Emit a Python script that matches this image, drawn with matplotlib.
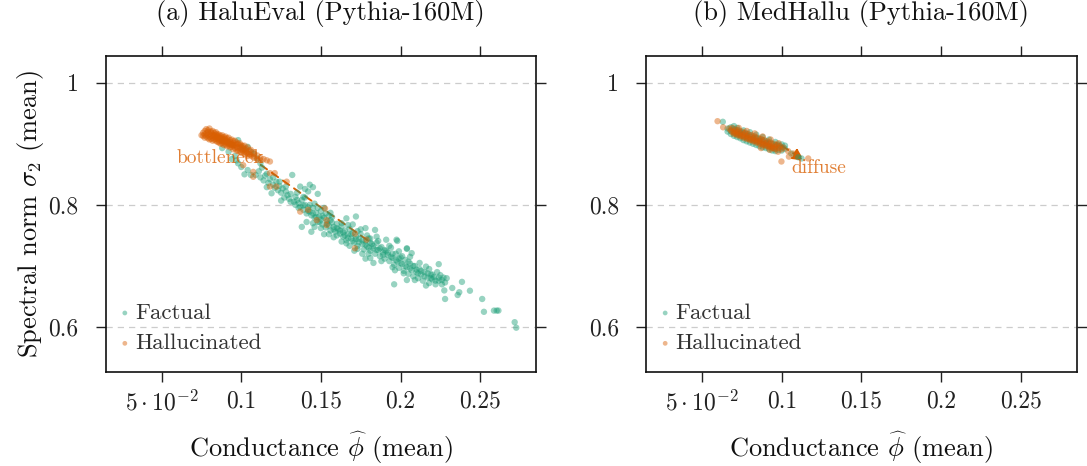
import numpy as np
import matplotlib
matplotlib.use("Agg")
import matplotlib.pyplot as plt

# ---------------- data ----------------
titles = ["(a) HaluEval (Pythia-160M)", "(b) MedHallu (Pythia-160M)"]
series_names = ["Factual", "Hallucinated"]
xtick_vals = [0.05, 0.10, 0.15, 0.20, 0.25]
xtick_labels = [r"$5\cdot10^{-2}$", "0.1", "0.15", "0.2", "0.25"]
ytick_vals = [0.6, 0.8, 1.0]
ytick_labels = ["0.6", "0.8", "1"]

halueval_factual = [
    (0.088,0.905),(0.092,0.902),(0.095,0.898),(0.098,0.906),(0.100,0.895),(0.102,0.891),
    (0.104,0.895),(0.106,0.887),(0.108,0.884),(0.110,0.876),(0.088,0.893),(0.092,0.887),
    (0.096,0.880),(0.098,0.868),(0.100,0.862),(0.102,0.850),(0.104,0.857),(0.106,0.849),
    (0.109,0.849),(0.094,0.875),(0.097,0.873),(0.112,0.868),(0.113,0.861),(0.111,0.855),
    (0.112,0.845),(0.114,0.840),(0.115,0.848),(0.117,0.836),(0.118,0.842),(0.119,0.819),
    (0.120,0.833),(0.121,0.828),(0.122,0.838),(0.123,0.824),(0.124,0.831),(0.125,0.820),
    (0.126,0.827),(0.127,0.812),(0.128,0.822),(0.129,0.816),(0.130,0.810),(0.131,0.818),
    (0.132,0.849),(0.133,0.805),(0.134,0.813),(0.135,0.808),(0.116,0.829),(0.125,0.807),
    (0.137,0.830),(0.140,0.826),(0.143,0.833),(0.145,0.829),(0.148,0.818),(0.142,0.822),
    (0.136,0.803),(0.137,0.797),(0.138,0.808),(0.139,0.792),(0.140,0.800),(0.141,0.786),
    (0.142,0.796),(0.143,0.789),(0.144,0.783),(0.144,0.756),(0.145,0.795),(0.146,0.779),
    (0.147,0.787),(0.148,0.772),(0.149,0.781),(0.150,0.776),(0.150,0.790),(0.151,0.768),
    (0.152,0.779),(0.153,0.763),(0.154,0.773),(0.155,0.766),(0.155,0.782),(0.156,0.758),
    (0.157,0.771),(0.158,0.764),(0.159,0.756),(0.160,0.769),(0.138,0.764),(0.141,0.772),
    (0.146,0.764),(0.152,0.752),(0.158,0.747),(0.139,0.813),(0.143,0.800),(0.148,0.795),
    (0.153,0.786),(0.157,0.780),
    (0.161,0.760),(0.162,0.753),(0.163,0.765),(0.164,0.748),(0.165,0.758),(0.166,0.742),
    (0.166,0.778),(0.167,0.752),(0.168,0.761),(0.169,0.745),(0.170,0.754),(0.171,0.738),
    (0.172,0.781),(0.172,0.748),(0.173,0.733),(0.174,0.744),(0.175,0.752),(0.176,0.736),
    (0.177,0.727),(0.178,0.741),(0.179,0.732),(0.180,0.745),(0.181,0.725),(0.182,0.736),
    (0.183,0.729),(0.184,0.720),(0.185,0.738),(0.186,0.726),(0.187,0.716),(0.188,0.731),
    (0.189,0.722),(0.190,0.712),(0.163,0.740),(0.168,0.733),(0.171,0.725),(0.176,0.720),
    (0.181,0.745),(0.185,0.748),(0.178,0.712),(0.183,0.705),(0.170,0.768),(0.175,0.760),
    (0.178,0.762),(0.184,0.759),(0.191,0.743),(0.1975,0.743),(0.204,0.729),(0.207,0.721),
    (0.181,0.713),(0.1965,0.693),(0.204,0.677),
    (0.191,0.725),(0.192,0.718),(0.193,0.708),(0.194,0.730),(0.195,0.713),(0.196,0.702),
    (0.196,0.670),(0.197,0.720),(0.198,0.741),(0.198,0.707),(0.199,0.697),(0.200,0.714),
    (0.201,0.703),(0.202,0.692),(0.203,0.710),(0.204,0.698),(0.204,0.728),(0.205,0.687),
    (0.206,0.704),(0.207,0.693),(0.208,0.683),(0.209,0.700),(0.210,0.690),(0.211,0.680),
    (0.212,0.695),(0.213,0.686),(0.214,0.676),(0.215,0.690),(0.216,0.699),(0.217,0.681),
    (0.218,0.672),(0.219,0.686),(0.220,0.678),(0.221,0.682),(0.222,0.670),(0.223,0.690),
    (0.224,0.676),(0.224,0.703),(0.225,0.685),(0.226,0.670),(0.227,0.681),(0.228,0.673),
    (0.229,0.680),
    (0.2275,0.660),(0.228,0.646),(0.2325,0.664),(0.2359,0.6525),(0.2369,0.657),(0.2386,0.674),
    (0.2436,0.6595),(0.2513,0.646),(0.2524,0.625),(0.2587,0.627),(0.2604,0.627),(0.2615,0.627),
    (0.2717,0.608),(0.2727,0.599),
    (0.131,0.805),(0.134,0.800),(0.136,0.795),(0.139,0.799),(0.142,0.790),(0.145,0.786),
    (0.147,0.780),(0.149,0.772),(0.151,0.782),(0.154,0.769),(0.156,0.775),(0.158,0.760),
    (0.160,0.762),(0.162,0.758),(0.164,0.755),(0.165,0.750),(0.167,0.746),(0.169,0.752),
    (0.170,0.741),(0.172,0.744),(0.174,0.739),(0.176,0.742),(0.178,0.735),(0.180,0.730),
    (0.181,0.738),(0.183,0.733),(0.185,0.726),(0.187,0.729),(0.189,0.718),(0.190,0.726),
    (0.192,0.722),(0.194,0.715),(0.195,0.720),(0.197,0.710),(0.199,0.712),(0.200,0.705),
    (0.201,0.716),(0.203,0.700),(0.205,0.707),(0.206,0.696),(0.208,0.700),(0.210,0.694),
    (0.211,0.688),(0.213,0.692),(0.215,0.683),(0.217,0.688),(0.219,0.680),(0.220,0.686),
    (0.222,0.676),(0.224,0.681),(0.226,0.677),(0.163,0.770),(0.167,0.767),(0.173,0.757),
    (0.179,0.750),(0.186,0.741),(0.193,0.733),(0.199,0.724),(0.206,0.715),(0.212,0.705),
    (0.218,0.695),(0.160,0.750),(0.166,0.737),(0.173,0.728),(0.180,0.720),(0.188,0.708),
    (0.195,0.698),(0.202,0.688),(0.209,0.677),(0.216,0.668),(0.145,0.770),(0.150,0.762),
    (0.155,0.752),(0.128,0.830),(0.124,0.838),(0.120,0.845),(0.116,0.851),(0.135,0.820),
    (0.140,0.812),(0.146,0.802),(0.152,0.795),(0.156,0.787),
]

halueval_halluc = [
    (0.075,0.914),(0.076,0.918),(0.076,0.913),(0.077,0.921),(0.077,0.915),(0.077,0.910),
    (0.078,0.924),(0.078,0.917),(0.078,0.912),(0.079,0.919),(0.079,0.914),(0.079,0.909),
    (0.079,0.922),(0.080,0.925),(0.080,0.916),(0.080,0.911),(0.080,0.907),(0.081,0.920),
    (0.081,0.913),(0.081,0.918),(0.081,0.908),(0.082,0.921),(0.082,0.915),(0.082,0.910),
    (0.082,0.905),(0.083,0.918),(0.083,0.912),(0.083,0.907),(0.083,0.914),(0.084,0.919),
    (0.084,0.911),(0.084,0.905),(0.084,0.915),(0.084,0.908),(0.085,0.916),(0.085,0.910),
    (0.085,0.903),(0.085,0.913),(0.086,0.915),(0.086,0.908),(0.086,0.902),(0.086,0.911),
    (0.086,0.905),(0.087,0.913),(0.087,0.906),(0.087,0.900),(0.087,0.909),(0.088,0.914),
    (0.088,0.907),(0.088,0.901),(0.088,0.904),(0.088,0.910),(0.089,0.911),(0.089,0.903),
    (0.089,0.898),(0.089,0.907),(0.090,0.912),(0.090,0.905),(0.090,0.899),(0.090,0.902),
    (0.090,0.908),(0.091,0.909),(0.091,0.902),(0.091,0.896),(0.091,0.905),(0.092,0.910),
    (0.092,0.903),(0.092,0.897),(0.092,0.900),(0.093,0.906),(0.093,0.899),(0.093,0.894),
    (0.093,0.903),(0.094,0.907),(0.094,0.900),(0.094,0.895),(0.094,0.898),(0.095,0.904),
    (0.095,0.897),(0.095,0.891),(0.095,0.901),(0.096,0.905),(0.096,0.898),(0.096,0.893),
    (0.097,0.902),(0.097,0.895),(0.097,0.889),(0.097,0.899),(0.098,0.900),(0.098,0.893),
    (0.098,0.888),(0.099,0.901),(0.099,0.894),(0.099,0.887),(0.099,0.897),(0.100,0.898),
    (0.100,0.891),(0.100,0.885),(0.101,0.896),(0.101,0.889),(0.101,0.893),(0.102,0.897),
    (0.102,0.887),(0.102,0.883),(0.103,0.892),(0.103,0.886),(0.103,0.889),(0.104,0.894),
    (0.104,0.884),(0.104,0.880),(0.105,0.889),(0.105,0.883),(0.106,0.890),(0.106,0.881),
    (0.107,0.886),(0.107,0.879),(0.108,0.884),(0.108,0.877),(0.110,0.881),(0.110,0.875),
    (0.112,0.877),(0.112,0.873),(0.114,0.875),(0.116,0.873),(0.118,0.871),
    (0.1075,0.854),(0.118,0.852),(0.121,0.852),(0.118,0.830),(0.1285,0.838),(0.122,0.830),
    (0.1075,0.846),(0.1012,0.865),(0.137,0.789),(0.142,0.792),(0.1474,0.775),(0.1526,0.794),
    (0.1536,0.775),(0.1536,0.767),(0.1714,0.753),(0.1787,0.743),(0.1714,0.729),
]

medhallu_factual = [
    (0.063,0.936),(0.066,0.925),(0.066,0.920),(0.068,0.927),(0.068,0.921),(0.068,0.916),
    (0.070,0.929),(0.070,0.924),(0.070,0.918),(0.070,0.913),(0.072,0.922),(0.072,0.916),
    (0.072,0.911),(0.072,0.926),(0.074,0.920),(0.074,0.914),(0.074,0.909),(0.074,0.917),
    (0.076,0.918),(0.076,0.912),(0.076,0.906),(0.076,0.922),(0.078,0.916),(0.078,0.910),
    (0.078,0.904),(0.078,0.913),(0.080,0.914),(0.080,0.908),(0.080,0.902),(0.080,0.919),
    (0.082,0.912),(0.082,0.906),(0.082,0.900),(0.082,0.909),(0.084,0.910),(0.084,0.904),
    (0.084,0.898),(0.084,0.915),(0.086,0.908),(0.086,0.902),(0.086,0.896),(0.086,0.905),
    (0.088,0.906),(0.088,0.900),(0.088,0.894),(0.088,0.911),(0.090,0.904),(0.090,0.898),
    (0.090,0.893),(0.090,0.901),(0.092,0.902),(0.092,0.896),(0.092,0.891),(0.092,0.907),
    (0.094,0.900),(0.094,0.894),(0.094,0.889),(0.096,0.898),(0.096,0.892),(0.096,0.888),
    (0.096,0.903),(0.098,0.896),(0.098,0.890),(0.098,0.899),(0.100,0.894),(0.100,0.889),
    (0.100,0.899),(0.102,0.892),(0.102,0.897),(0.106,0.884),(0.1103,0.878),(0.1124,0.876),
]

medhallu_halluc = [
    (0.0597,0.937),(0.0632,0.927),(0.067,0.925),(0.068,0.922),(0.069,0.926),(0.070,0.920),
    (0.070,0.916),(0.071,0.923),(0.072,0.919),(0.072,0.914),(0.073,0.922),(0.074,0.917),
    (0.074,0.912),(0.075,0.920),(0.076,0.915),(0.076,0.910),(0.077,0.918),(0.078,0.913),
    (0.078,0.908),(0.079,0.916),(0.080,0.911),(0.080,0.906),(0.081,0.914),(0.082,0.909),
    (0.082,0.904),(0.083,0.912),(0.084,0.907),(0.084,0.902),(0.085,0.910),(0.086,0.905),
    (0.086,0.900),(0.087,0.908),(0.088,0.903),(0.088,0.898),(0.089,0.906),(0.090,0.901),
    (0.090,0.896),(0.091,0.904),(0.092,0.899),(0.092,0.894),(0.093,0.902),(0.094,0.897),
    (0.094,0.893),(0.095,0.900),(0.096,0.895),(0.096,0.891),(0.097,0.898),(0.098,0.893),
    (0.099,0.896),(0.100,0.891),(0.101,0.894),(0.069,0.919),(0.071,0.917),(0.073,0.915),
    (0.075,0.913),(0.077,0.911),(0.079,0.909),(0.081,0.907),(0.083,0.905),(0.085,0.903),
    (0.087,0.901),(0.089,0.899),(0.091,0.897),(0.093,0.895),(0.095,0.893),(0.073,0.926),
    (0.078,0.921),(0.083,0.917),(0.088,0.912),(0.093,0.907),(0.098,0.901),(0.087,0.893),
    (0.0925,0.890),(0.0977,0.887),(0.0998,0.871),(0.1045,0.879),(0.1073,0.884),(0.104,0.888),
    (0.1166,0.876),
]

panels_data = [(halueval_factual, halueval_halluc), (medhallu_factual, medhallu_halluc)]

# annotations (label, text position, arrow head, arrow tail, arrow style)
annot_labels = ["bottleneck", "diffuse"]
annot_text_xy = [(0.1145, 0.877), (0.1062, 0.861)]
annot_arrow_head = [(0.1105, 0.8686), (0.1140, 0.8725)]
annot_arrow_tail = [(0.179, 0.7426), (0.100, 0.897)]
annot_text_ha = ["right", "left"]
annot_arrowstyle = ["-", "-|>,head_length=0.7,head_width=0.35"]

# ---------------- style ----------------
GREEN = "#1b9e77"
ORANGE = "#d95f02"
plt.rcParams["font.family"] = ["cmr10", "DejaVu Serif"]
plt.rcParams["mathtext.fontset"] = "cm"
plt.rcParams["axes.unicode_minus"] = False
plt.rcParams["axes.formatter.use_mathtext"] = True

fig = plt.figure(figsize=(10.87, 4.66), dpi=100)
axes_rects = [[0.0972, 0.2024, 0.3959, 0.6781], [0.5943, 0.2024, 0.3962, 0.6781]]

for i, rect in enumerate(axes_rects):
    ax = fig.add_axes(rect)
    fact, hall = panels_data[i]
    fact = np.array(fact); hall = np.array(hall)
    ax.scatter(fact[:, 0], fact[:, 1], s=21, color=GREEN, alpha=0.45,
               edgecolors="none", label=series_names[0], zorder=3)
    ax.scatter(hall[:, 0], hall[:, 1], s=21, color=ORANGE, alpha=0.45,
               edgecolors="none", label=series_names[1], zorder=3)
    ax.annotate("", xy=annot_arrow_head[i], xytext=annot_arrow_tail[i],
                arrowprops=dict(arrowstyle=annot_arrowstyle[i],
                                color=ORANGE, lw=1.4, ls=(0, (4, 3)),
                                shrinkA=0, shrinkB=0), zorder=2)
    ax.text(annot_text_xy[i][0], annot_text_xy[i][1], annot_labels[i],
            color=ORANGE, alpha=0.8, fontsize=14, ha=annot_text_ha[i],
            va="center", zorder=4)

    ax.set_xlim(0.0148, 0.2851)
    ax.set_ylim(0.527, 1.0442)
    ax.set_xticks(xtick_vals)
    ax.set_xticklabels(xtick_labels)
    ax.set_yticks(ytick_vals)
    ax.set_yticklabels(ytick_labels)
    ax.tick_params(axis="both", which="both", direction="out", length=7.5,
                   width=1.0, top=True, right=True, labelsize=17, colors="#222222")
    ax.tick_params(axis="x", pad=6)
    ax.tick_params(axis="y", pad=12)
    ax.yaxis.grid(True, color="#cccccc", ls=(0, (5, 4)), lw=0.9)
    ax.set_axisbelow(True)
    for sp in ax.spines.values():
        sp.set_linewidth(1.2)
        sp.set_color("#111111")
    ax.set_title(titles[i], fontsize=19, pad=26, color="#111111")
    ax.set_xlabel(r"Conductance $\widehat{\phi}$ (mean)", fontsize=19,
                  labelpad=10, color="#111111")
    if i == 0:
        ax.set_ylabel(r"Spectral norm $\sigma_2$ (mean)", fontsize=19,
                      labelpad=2, color="#111111")
    leg = ax.legend(loc="lower left", frameon=False, fontsize=16.5,
                    markerscale=0.75, handletextpad=0.0, handlelength=0.9,
                    borderaxespad=0.4, labelspacing=0.45,
                    bbox_to_anchor=(-0.022, 0.0))
    for t in leg.get_texts():
        t.set_color("#333333")

fig.savefig("out.png", dpi=100)
